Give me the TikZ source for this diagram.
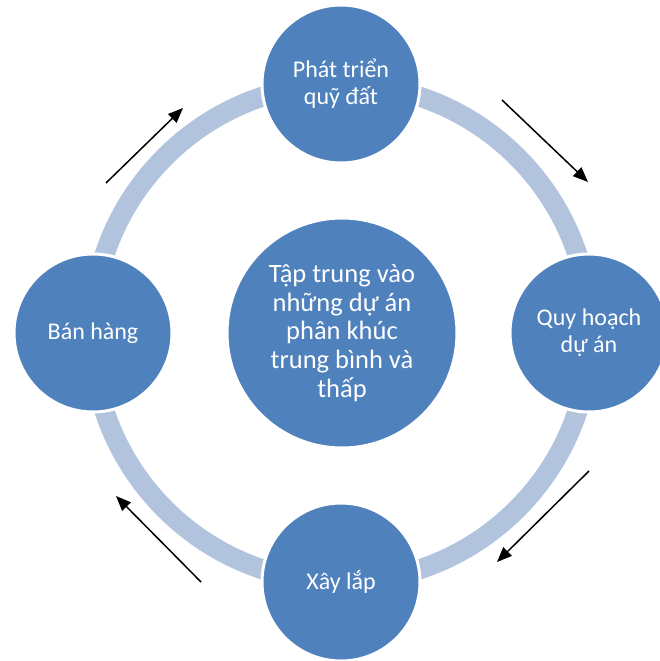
\documentclass[tikz,border=0pt]{standalone}
\usepackage{fontspec}
\setmainfont{Carlito}
\usetikzlibrary{arrows.meta}
\definecolor{khoi}{RGB}{79,129,189}
\definecolor{vong}{RGB}{178,195,222}

\begin{document}
\begin{tikzpicture}[x=1pt,y=-1pt,
  buoc/.style={circle, fill=khoi, draw=white, line width=3pt, minimum size=158pt,
    inner sep=0pt, text=white, align=center, font=\fontsize{24}{27}\selectfont},
  muiten/.style={line width=1.5pt, -{Triangle[length=15pt,width=12pt]}}]
\useasboundingbox (0,0) rectangle (660,661);
% Draw the ring
\draw[vong, line width=20pt] (341,333) circle (249pt);
% the steps
\node[buoc] (datdai) at (341,84) {Phát triển\\quỹ đất};
\node[buoc] (quyhoach) at (589,333) {Quy hoạch\\dự án};
\node[buoc] (xaylap) at (341,582) {Xây lắp};
\node[buoc] (banhang) at (93,333) {Bán hàng};
% the centre
\node[buoc, minimum size=230pt, font=\fontsize{26.5}{28.7}\selectfont] (taptrung) at (342,333)
  {Tập trung vào\\những dự án\\phân khúc\\trung bình và\\thấp};
% the arrows
\coordinate (t1) at (106,183); \coordinate (d1) at (183,108);
\coordinate (t2) at (502,100); \coordinate (d2) at (588,182);
\coordinate (t3) at (589,471); \coordinate (d3) at (497,562);
\coordinate (t4) at (201,582); \coordinate (d4) at (116,496);
\foreach \i in {1,...,4} {
\draw[muiten] (t\i) -- (d\i);
}
\end{tikzpicture}
\end{document}
